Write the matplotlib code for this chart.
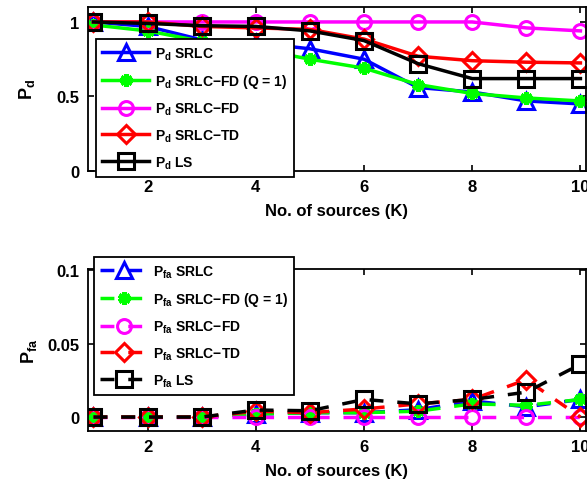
import numpy as np
import matplotlib
matplotlib.use("Agg")
import matplotlib.pyplot as plt

plt.rcParams["font.family"] = "Liberation Sans"
plt.rcParams["font.weight"] = "bold"
plt.rcParams["mathtext.fontset"] = "custom"
plt.rcParams["mathtext.rm"] = "Liberation Sans:bold"
plt.rcParams["mathtext.it"] = "Liberation Sans:bold"
plt.rcParams["mathtext.bf"] = "Liberation Sans:bold"

K = np.arange(1, 11)

# detection probability
pd_srlc = [1.0, 0.97, 0.88, 0.86, 0.82, 0.75, 0.56, 0.53, 0.47, 0.45]
pd_srlc_fd_q1 = [0.98, 0.94, 0.87, 0.82, 0.75, 0.69, 0.58, 0.52, 0.49, 0.47]
pd_srlc_fd = [1.0, 1.0, 1.0, 1.0, 1.0, 1.0, 1.0, 1.0, 0.96, 0.94]
pd_srlc_td = [1.0, 1.0, 0.97, 0.96, 0.95, 0.885, 0.77, 0.74, 0.73, 0.725]
pd_ls = [1.0, 0.99, 0.975, 0.97, 0.94, 0.875, 0.72, 0.62, 0.62, 0.62]

# false alarm probability
pfa_srlc = [0.0, 0.0, 0.0, 0.002, 0.003, 0.003, 0.005, 0.011, 0.007, 0.012]
pfa_srlc_fd_q1 = [0.0, 0.0, 0.0, 0.002, 0.003, 0.003, 0.004, 0.009, 0.008, 0.012]
pfa_srlc_fd = [0.0, 0.0, 0.0, 0.0, 0.0, 0.0, 0.0, 0.0, 0.0, 0.0]
pfa_srlc_td = [0.0, 0.0, 0.0, 0.004, 0.003, 0.0055, 0.009, 0.012, 0.0255, 0.0]
pfa_ls = [0.0, 0.0, 0.0, 0.0048, 0.0043, 0.012, 0.009, 0.012, 0.017, 0.036]

names = ["SRLC", "SRLC\u2212FD (Q = 1)", "SRLC\u2212FD", "SRLC\u2212TD", "LS"]
colors = ["#0000ff", "#00ff00", "#ff00ff", "#ff0000", "#000000"]
markers = ["^", (6, 2, 0), "o", "D", "s"]
msizes = [11, 9, 10, 9, 12]

fig = plt.figure(figsize=(5.87, 4.85), dpi=100)
ax1 = fig.add_axes([0.150, 0.6454, 0.848, 0.338])
ax2 = fig.add_axes([0.150, 0.1093, 0.848, 0.334])


def draw(ax, series, ls, sub):
    for y, c, m, ms, name in zip(series, colors, markers, msizes, names):
        face = c if m == (6, 2, 0) else "none"
        ax.plot(K, y, color=c, ls=ls, lw=2.5, marker=m, ms=ms,
                mfc=face, mec=c, mew=2.2 if m != (6, 2, 0) else 3.5,
                dashes=(4, 4) if ls == "--" else (None, None),
                label=r"$P_{%s}$ %s" % (sub, name))
    ax.set_xlim(0.9, 10.1)
    ax.set_xticks([2, 4, 6, 8, 10])
    ax.tick_params(direction="in", top=True, right=True, labelsize=12,
                   width=1.2, length=4, pad=6)
    for s in ax.spines.values():
        s.set_linewidth(1.3)
    ax.set_xlabel("No. of sources (K)", fontsize=12, fontweight="bold", labelpad=6)


def legend(ax, x0, y0):
    leg = ax.legend(loc="upper left", bbox_to_anchor=(x0 / 587, 1 - y0 / 485),
                    bbox_transform=fig.transFigure, fontsize=10, handlelength=3.4,
                    handletextpad=0.4, labelspacing=0.75, borderpad=0.45,
                    borderaxespad=0, fancybox=False, framealpha=1, edgecolor="black")
    leg.get_frame().set_linewidth(1.3)


draw(ax1, [pd_srlc, pd_srlc_fd_q1, pd_srlc_fd, pd_srlc_td, pd_ls], "-", "d")
ax1.set_ylim(0, 1.1)
ax1.set_yticks([0, 0.5, 1])
ax1.set_yticklabels(["0", "0.5", "1"])
ax1.set_ylabel(r"$P_{d}$", fontsize=13, labelpad=14)
legend(ax1, 96, 40)

draw(ax2, [pfa_srlc, pfa_srlc_fd_q1, pfa_srlc_fd, pfa_srlc_td, pfa_ls], "--", "fa")
ax2.set_ylim(-0.0095, 0.101)
ax2.set_yticks([0, 0.05, 0.1])
ax2.set_yticklabels(["0", "0.05", "0.1"])
ax2.set_ylabel(r"$P_{fa}$", fontsize=13, labelpad=6)
legend(ax2, 94, 258)

fig.savefig("out.png", dpi=100)
